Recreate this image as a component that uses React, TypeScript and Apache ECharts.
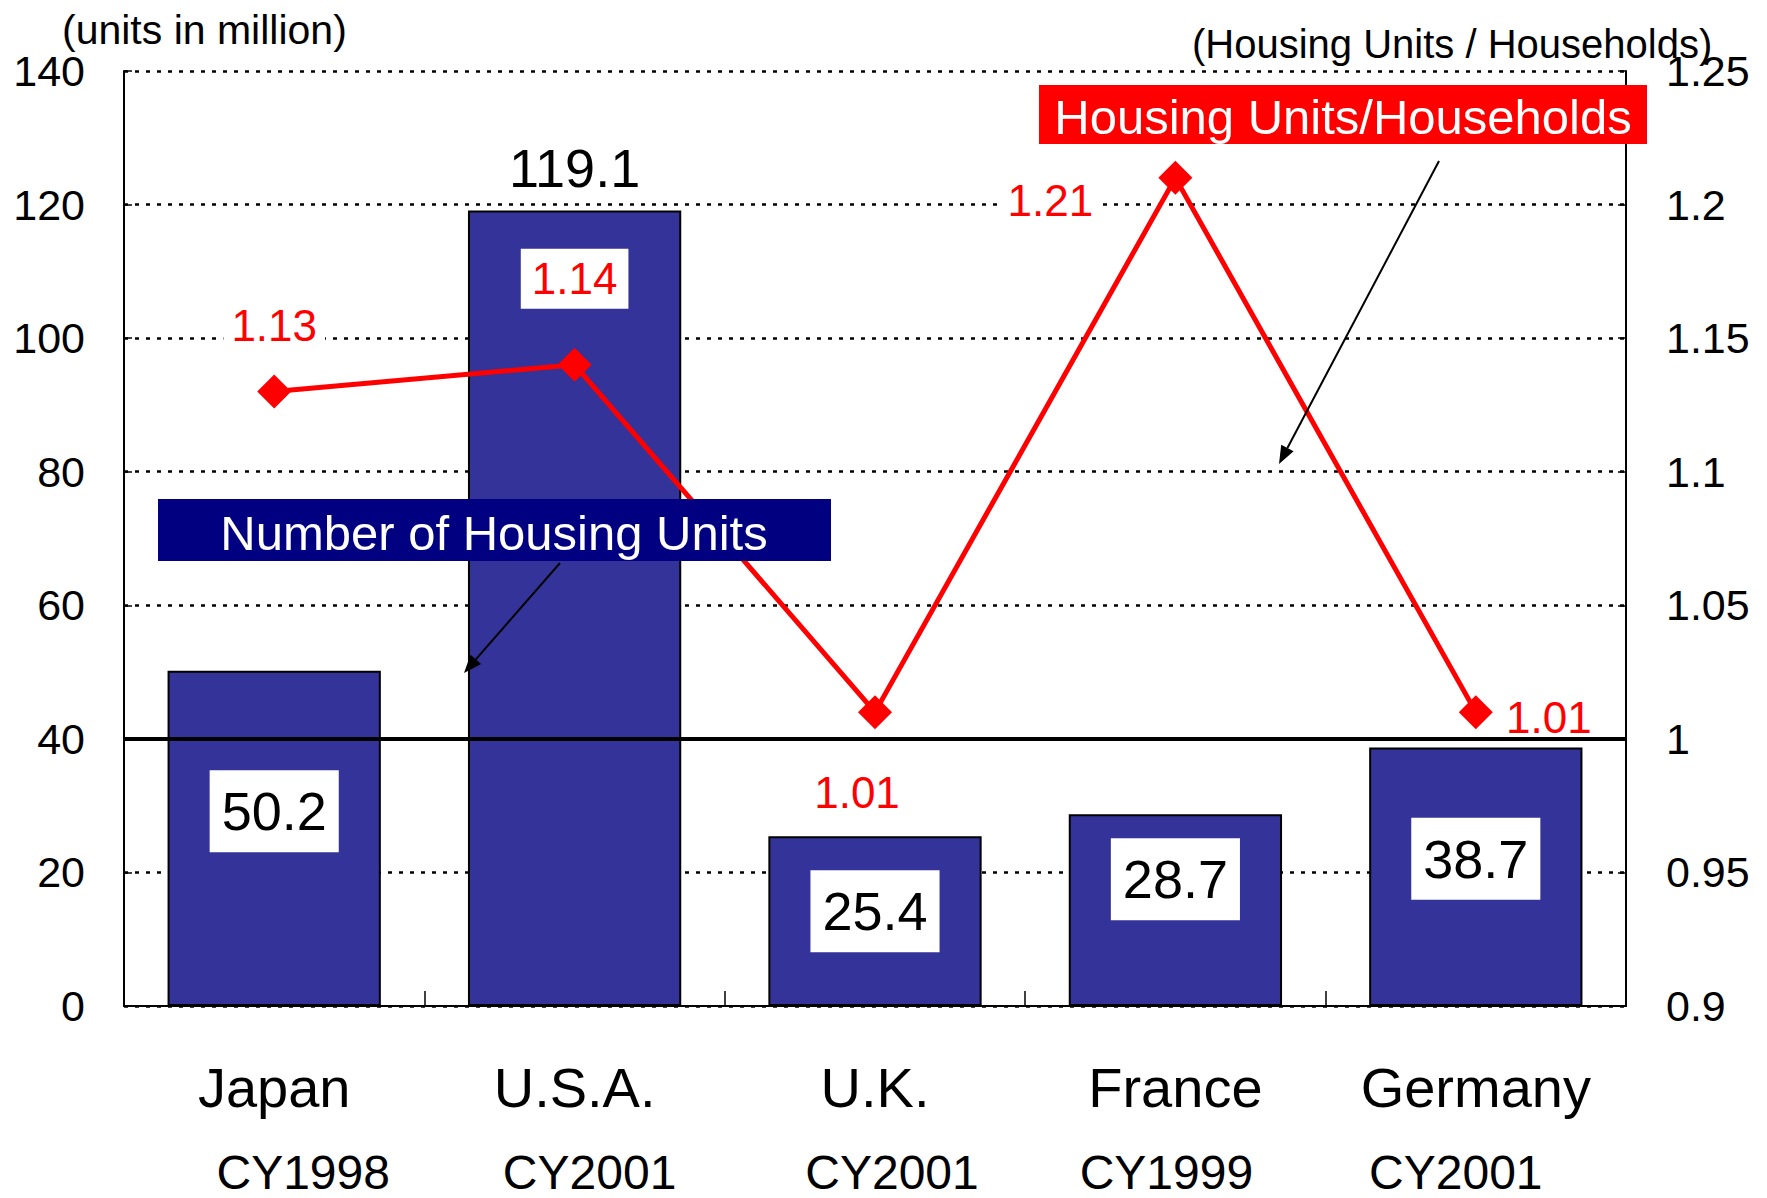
import React, { useEffect, useRef } from "react";
import * as echarts from "echarts";

const countries = ["Japan", "U.S.A.", "U.K.", "France", "Germany"];
const years = ["CY1998", "CY2001", "CY2001", "CY1999", "CY2001"];
const housingUnits = [50.2, 119.1, 25.4, 28.7, 38.7];
const unitsPerHousehold = [1.13, 1.14, 1.01, 1.21, 1.01];

// label styling (offsets, px)
const barLabelOffsets = [-27, 0, -10, -31, -18];
const lineLabelOffsets = [[0, -66], [0, -86], [-18, 80], [-125, 23], [73, 5]];
const lineLabelBoxed = [true, true, false, true, false];
const yearShift = [[0, 0, 0, 58], [0, 0, 0, 30], [0, 0, 0, 34], [0, 18, 0, 0], [0, 40, 0, 0]];

const FONT = '"Liberation Sans", Arial, sans-serif';

function arrow(x1: number, y1: number, x2: number, y2: number) {
  const dx = x2 - x1, dy = y2 - y1;
  const len = Math.sqrt(dx * dx + dy * dy);
  const ux = dx / len, uy = dy / len;
  const L = 18, W = 7;
  const bx = x2 - ux * L, by = y2 - uy * L;
  const px = -uy * W, py = ux * W;
  return [
    { type: "line", shape: { x1, y1, x2: bx, y2: by }, style: { stroke: "#000", lineWidth: 2 }, z: 100 },
    { type: "polygon", shape: { points: [[x2, y2], [bx + px, by + py], [bx - px, by - py]] }, style: { fill: "#000" }, z: 100 },
  ];
}

export default function App() {
  const ref = useRef<HTMLDivElement>(null);
  useEffect(() => {
    document.body.style.margin = "0";
    const chart = echarts.init(ref.current!, null, { renderer: "svg" });
    const rich: any = { n: { fontSize: 56, lineHeight: 120, fontFamily: FONT, color: "#000" } };
    years.forEach((_, i) => {
      rich["c" + i] = { fontSize: 48, lineHeight: 50, fontFamily: FONT, color: "#000", padding: yearShift[i] };
    });
    const option: any = {
      animation: false,
      textStyle: { fontFamily: FONT },
      grid: { left: 124, right: 141, top: 71, bottom: 192, containLabel: false },
      xAxis: {
        type: "category",
        data: countries,
        axisLine: { lineStyle: { color: "#000", width: 2 } },
        axisTick: { show: true, inside: true, length: 15, alignWithLabel: false, lineStyle: { color: "#000", width: 1.5 } },
        axisLabel: {
          interval: 0,
          margin: 21,
          formatter: (v: string, i: number) => `{n|${v}}\n{c${i}|${years[i]}}`,
          rich,
        },
      },
      yAxis: [
        {
          type: "value",
          min: 0,
          max: 140,
          interval: 20,
          position: "left",
          axisLine: { show: true, lineStyle: { color: "#000", width: 2 } },
          axisTick: { show: true, inside: true, length: 8, lineStyle: { color: "#000", width: 1.5 } },
          axisLabel: { fontSize: 43, color: "#000", margin: 39, fontFamily: FONT },
          splitLine: { show: true, lineStyle: { color: "#000", width: 2.5, type: [4, 7] } },
        },
        {
          type: "value",
          min: 0.9,
          max: 1.25,
          interval: 0.05,
          position: "right",
          axisLine: { show: true, lineStyle: { color: "#000", width: 2 } },
          axisTick: { show: true, inside: true, length: 8, lineStyle: { color: "#000", width: 1.5 } },
          axisLabel: {
            fontSize: 43,
            color: "#000",
            margin: 40,
            fontFamily: FONT,
            formatter: (v: number) => String(+v.toFixed(2)),
          },
          splitLine: { show: false },
        },
      ],
      series: [
        {
          type: "bar",
          yAxisIndex: 0,
          barWidth: "71%",
          itemStyle: { color: "#333399", borderColor: "#000", borderWidth: 2 },
          data: housingUnits.map((v, i) => ({
            value: v,
            label:
              i === 1
                ? { show: true, position: "top", distance: 16, fontSize: 54, color: "#000", fontFamily: FONT }
                : {
                    show: true,
                    position: "inside",
                    offset: [0, barLabelOffsets[i]],
                    fontSize: 54,
                    color: "#000",
                    fontFamily: FONT,
                    backgroundColor: "#fff",
                    padding: [16, 12, 12, 12],
                  },
          })),
          markLine: {
            silent: true,
            symbol: "none",
            label: { show: false },
            lineStyle: { color: "#000", width: 4, type: "solid" },
            data: [{ yAxis: 40 }],
          },
          z: 2,
        },
        {
          type: "line",
          yAxisIndex: 1,
          symbol: "diamond",
          symbolSize: 34,
          itemStyle: { color: "#ff0000" },
          lineStyle: { color: "#ff0000", width: 5 },
          data: unitsPerHousehold.map((v, i) => ({
            value: v,
            label: {
              show: true,
              position: "inside",
              offset: lineLabelOffsets[i],
              fontSize: 44,
              color: "#ff0000",
              fontFamily: FONT,
              formatter: (p: any) => p.value.toFixed(2),
              ...(lineLabelBoxed[i]
                ? { backgroundColor: "#fff", padding: i === 1 ? [10, 11, 6, 11] : [6, 8, 8, 8] }
                : {}),
            },
          })),
          z: 5,
        },
      ],
      graphic: [
        { type: "text", left: 62, top: 9, style: { text: "(units in million)", fontSize: 41, fill: "#000", fontFamily: FONT } },
        { type: "text", left: 1192, top: 24, style: { text: "(Housing Units / Households)", fontSize: 40, fill: "#000", fontFamily: FONT } },
        { type: "rect", shape: { x: 158, y: 499, width: 673, height: 62 }, style: { fill: "#000080" }, z: 90 },
        {
          type: "text",
          x: 494,
          y: 533,
          style: { text: "Number of Housing Units", fontSize: 49, fill: "#fff", fontFamily: FONT, align: "center", verticalAlign: "middle" },
          z: 91,
        },
        { type: "rect", shape: { x: 1039, y: 85, width: 608, height: 59 }, style: { fill: "#ff0000" }, z: 90 },
        {
          type: "text",
          x: 1343,
          y: 117,
          style: { text: "Housing Units/Households", fontSize: 49, fill: "#fff", fontFamily: FONT, align: "center", verticalAlign: "middle" },
          z: 91,
        },
        ...arrow(560, 563, 464, 673),
        ...arrow(1439, 161, 1279, 464),
      ],
    };
    chart.setOption(option);
    return () => chart.dispose();
  }, []);
  return <div ref={ref} style={{ width: 1767, height: 1198 }} />;
}
